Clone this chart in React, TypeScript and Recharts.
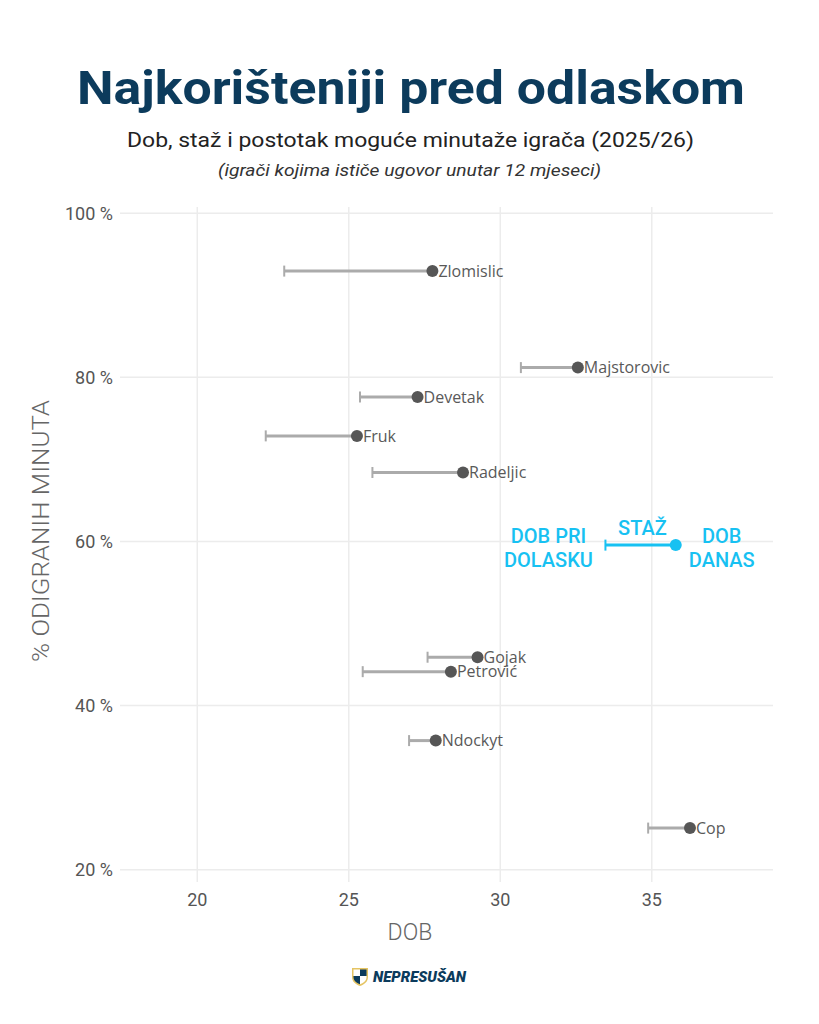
import React from 'react';
import { ComposedChart, Scatter, XAxis, YAxis, CartesianGrid } from 'recharts';

const players = ['Zlomislic', 'Majstorovic', 'Devetak', 'Fruk', 'Radeljic', 'Gojak', 'Petrović', 'Ndockyt', 'Cop'];
const ageNow = [27.76, 32.56, 27.27, 25.27, 28.77, 29.25, 28.37, 27.87, 36.26];
const ageAtArrival = [22.87, 30.68, 25.37, 22.26, 25.78, 27.6, 25.46, 26.99, 34.88];
const minutesPct = [92.94, 81.18, 77.6, 72.86, 68.4, 45.89, 44.13, 35.73, 25.07];

const legendArrival = 33.47;
const legendNow = 35.79;
const legendPct = 59.55;

const xTicks = [20, 25, 30, 35];
const yTicks = [20, 40, 60, 80, 100];

const GREY_BAR = '#ababab';
const DOT = '#565656';
const CYAN = '#17c1f2';
const NAVY = '#0c3b5c';

const playerSeries = players.map((name, i) => [
  { x: ageAtArrival[i], y: minutesPct[i], kind: 'start', name },
  { x: ageNow[i], y: minutesPct[i], kind: 'now', name },
]);

const legendSeries = [
  { x: legendArrival, y: legendPct, kind: 'start' },
  { x: legendNow, y: legendPct, kind: 'now' },
];

const PlayerShape = (props: any) => {
  const { cx, cy, payload } = props;
  if (cx == null || cy == null) return <g />;
  if (payload.kind === 'start') {
    return <line x1={cx} x2={cx} y1={cy - 5.5} y2={cy + 5.5} stroke={GREY_BAR} strokeWidth={2} />;
  }
  return (
    <g>
      <circle cx={cx} cy={cy} r={6} fill={DOT} />
      <text x={cx + 6} y={cy + 5.7} fontFamily="'Open Sans', sans-serif" fontSize={16} fill="#595959">
        {payload.name}
      </text>
    </g>
  );
};

const LegendShape = (props: any) => {
  const { cx, cy, payload } = props;
  if (cx == null || cy == null) return <g />;
  const textProps = {
    fontFamily: 'Roboto, sans-serif',
    fontWeight: 500,
    fontSize: 20,
    fill: CYAN,
    textAnchor: 'middle' as const,
  };
  if (payload.kind === 'start') {
    return (
      <g>
        <line x1={cx} x2={cx} y1={cy - 5.5} y2={cy + 5.5} stroke={CYAN} strokeWidth={2} />
        <text x={cx - 57} y={cy - 2} {...textProps}>DOB PRI</text>
        <text x={cx - 57} y={cy + 22} {...textProps}>DOLASKU</text>
        <text x={cx + 37} y={cy - 10} {...textProps}>STAŽ</text>
      </g>
    );
  }
  return (
    <g>
      <circle cx={cx} cy={cy} r={6} fill={CYAN} />
      <text x={cx + 46} y={cy - 2} {...textProps}>DOB</text>
      <text x={cx + 46} y={cy + 22} {...textProps}>DANAS</text>
    </g>
  );
};

const Shield = () => (
  <g transform="translate(352,967)">
    <path d="M0,1 L16,1 L16,10 C16,15 12,17.5 8,19 C4,17.5 0,15 0,10 Z" fill="#e5c463" />
    <path d="M1.5,2.5 L8,2.5 L8,9 L1.5,9 Z" fill="#ffffff" />
    <path d="M8,2.5 L14.5,2.5 L14.5,9 L8,9 Z" fill={NAVY} />
    <path d="M1.5,9 L8,9 L8,17.2 C5,16 1.5,14 1.5,10 Z" fill={NAVY} />
    <path d="M8,9 L14.5,9 L14.5,10 C14.5,14 11,16 8,17.2 Z" fill="#ffffff" />
  </g>
);

export default function App() {
  return (
    <div style={{ position: 'absolute', left: 0, top: 0, width: 819, height: 1024, background: '#ffffff' }}>
      <ComposedChart
        width={819}
        height={1024}
        margin={{ top: 207, right: 46, bottom: 102, left: 60 }}
      >
        <CartesianGrid stroke="#ececec" strokeWidth={1.5} syncWithTicks />
        <XAxis
          type="number"
          dataKey="x"
          domain={[17.45, 39]}
          ticks={xTicks}
          allowDataOverflow
          axisLine={false}
          tickLine={false}
          tickMargin={5}
          height={40}
          tick={{ fontFamily: 'Roboto, sans-serif', fontSize: 18, fill: '#555555' }}
        />
        <YAxis
          type="number"
          dataKey="y"
          domain={[18.5, 100.75]}
          ticks={yTicks}
          allowDataOverflow
          axisLine={false}
          tickLine={false}
          tickMargin={1}
          width={60}
          tickFormatter={(v: number) => `${v} %`}
          tick={{ fontFamily: 'Roboto, sans-serif', fontSize: 18, fill: '#555555' }}
        />
        {playerSeries.map((d, i) => (
          <Scatter
            key={players[i]}
            data={d}
            line={{ stroke: GREY_BAR, strokeWidth: 3 }}
            lineJointType="linear"
            shape={<PlayerShape />}
            isAnimationActive={false}
          />
        ))}
        <Scatter
          data={legendSeries}
          line={{ stroke: CYAN, strokeWidth: 3 }}
          lineJointType="linear"
          shape={<LegendShape />}
          isAnimationActive={false}
        />
      </ComposedChart>
      <svg
        width={819}
        height={1024}
        style={{ position: 'absolute', left: 0, top: 0, pointerEvents: 'none' }}
      >
        <text
          x={411}
          y={104}
          textAnchor="middle"
          fontFamily="Roboto, sans-serif"
          fontWeight={700}
          fontSize={47}
          fill={NAVY}
          textLength={668}
          lengthAdjust="spacingAndGlyphs"
        >
          Najkorišteniji pred odlaskom
        </text>
        <text
          x={410.5}
          y={147}
          textAnchor="middle"
          fontFamily="Roboto, sans-serif"
          fontSize={21}
          fill="#222222"
          textLength={567}
          lengthAdjust="spacingAndGlyphs"
        >
          Dob, staž i postotak moguće minutaže igrača (2025/26)
        </text>
        <text
          x={409.5}
          y={176}
          textAnchor="middle"
          fontFamily="Roboto, sans-serif"
          fontStyle="italic"
          fontSize={17}
          fill="#333333"
          textLength={383}
          lengthAdjust="spacingAndGlyphs"
        >
          (igrači kojima ističe ugovor unutar 12 mjeseci)
        </text>
        <text
          x={410}
          y={940}
          textAnchor="middle"
          fontFamily="Roboto, sans-serif"
          fontWeight={300}
          fontSize={23}
          fill="#666666"
        >
          DOB
        </text>
        <text
          transform="translate(49,531) rotate(-90)"
          textAnchor="middle"
          fontFamily="Roboto, sans-serif"
          fontWeight={300}
          fontSize={23}
          fill="#666666"
          textLength={262}
          lengthAdjust="spacingAndGlyphs"
        >
          % ODIGRANIH MINUTA
        </text>
        <Shield />
        <text
          x={373}
          y={982}
          fontFamily="Roboto, sans-serif"
          fontWeight={900}
          fontStyle="italic"
          fontSize={14}
          fill={NAVY}
          textLength={93}
          lengthAdjust="spacingAndGlyphs"
        >
          NEPRESUŠAN
        </text>
      </svg>
    </div>
  );
}
